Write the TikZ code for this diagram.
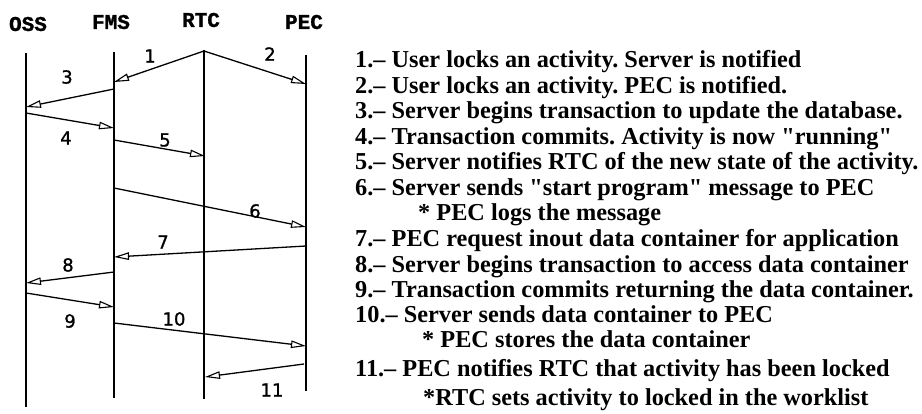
\documentclass[tikz,border=0pt]{standalone}
\usepackage{fontspec}
\setmainfont{Liberation Serif}[Ligatures=TeXOff]
\newfontfamily\headfont{Liberation Mono}[FakeBold=1.2]
\newfontfamily\numfont{DejaVu Sans}[FakeBold=1.2]
\usetikzlibrary{arrows.meta}
\frenchspacing
\begin{document}
\begin{tikzpicture}[x=1pt,y=-1pt,
  lifeline/.style={line width=1.5pt},
  msg/.style={line width=1.3pt,-{Triangle[open,length=15pt,width=7.5pt,line width=1.1pt]}},
  head/.style={font=\headfont\bfseries\fontsize{21}{21}\selectfont},
  num/.style={font=\numfont\fontsize{18}{18}\selectfont},
  note/.style={anchor=base west,inner sep=0pt,font=\bfseries\fontsize{24.3}{24.3}\selectfont}]
\useasboundingbox (0,0) rectangle (922,413);

% column headings
\node[head] (hOSS) at (28,24) {OSS};
\node[head] (hFMS) at (111,22) {FMS};
\node[head] (hRTC) at (201,20) {RTC};
\node[head] (hPEC) at (304,22) {PEC};

% lifelines
\coordinate (oT) at (26,53);  \coordinate (oB) at (26,407);
\coordinate (fT) at (114,52); \coordinate (fB) at (114,398);
\coordinate (rT) at (204,50); \coordinate (rB) at (204,399);
\coordinate (pT) at (306,55); \coordinate (pB) at (306,391);
\draw[lifeline] (oT) -- (oB);
\draw[lifeline] (fT) -- (fB);
\draw[lifeline] (rT) -- (rB);
\draw[lifeline] (pT) -- (pB);

% message end points
\coordinate (m1a) at (204,51);  \coordinate (m1b) at (114,82);
\coordinate (m2b) at (306,84);
\coordinate (m3a) at (114,89);  \coordinate (m3b) at (26,107);
\coordinate (m4a) at (26,113);  \coordinate (m4b) at (114,128);
\coordinate (m5a) at (114,140); \coordinate (m5b) at (205,156);
\coordinate (m6a) at (114,188); \coordinate (m6b) at (306,227);
\coordinate (m7a) at (306,246); \coordinate (m7b) at (114,257);
\coordinate (m8a) at (114,272); \coordinate (m8b) at (26,283);
\coordinate (m9a) at (26,293);  \coordinate (m9b) at (114,307);
\coordinate (m10a) at (114,323); \coordinate (m10b) at (306,346);
\coordinate (m11a) at (304,364); \coordinate (m11b) at (205,377);

% messages
\draw[msg] (m1a) -- (m1b);
\draw[msg] (m1a) -- (m2b);
\draw[msg] (m3a) -- (m3b);
\draw[msg] (m4a) -- (m4b);
\draw[msg] (m5a) -- (m5b);
\draw[msg] (m6a) -- (m6b);
\draw[msg] (m7a) -- (m7b);
\draw[msg] (m8a) -- (m8b);
\draw[msg] (m9a) -- (m9b);
\draw[msg] (m10a) -- (m10b);
\draw[msg] (m11a) -- (m11b);

% message numbers
\node[num] (n1) at (150,56) {1};
\node[num] (n2) at (270,54) {2};
\node[num] (n3) at (67,77) {3};
\node[num] (n4) at (66,138) {4};
\node[num] (n5) at (165,140) {5};
\node[num] (n6) at (255,211) {6};
\node[num] (n7) at (163,242) {7};
\node[num] (n8) at (68,265) {8};
\node[num] (n9) at (70,321) {9};
\node[num] (n10) at (174,319) {10};
\node[num] (n11) at (272,390) {11};

% legend
\node[note] (t1)  at (355,67)  {1.– User locks an activity. Server is notified};
\node[note] (t2)  at (355,93)  {2.– User locks an activity. PEC is notified.};
\node[note] (t3)  at (355,118) {3.– Server begins transaction to update the database.};
\node[note] (t4)  at (355,144) {4.– Transaction commits. Activity is now "running"};
\node[note] (t5)  at (355,169) {5.– Server notifies RTC of the new state of the activity.};
\node[note] (t6)  at (355,195) {6.– Server sends "start program" message to PEC};
\node[note] (t6a) at (418,220) {* PEC logs the message};
\node[note] (t7)  at (355,246) {7.– PEC request inout data container for application};
\node[note] (t8)  at (355,272) {8.– Server begins transaction to access data container};
\node[note] (t9)  at (355,297) {9.– Transaction commits returning the data container.};
\node[note] (t10) at (355,322) {10.– Server sends data container to PEC};
\node[note] (t10a) at (422,347) {* PEC stores the data container};
\node[note] (t11) at (355,376) {11.– PEC notifies RTC that activity has been locked};
\node[note] (t11a) at (423,405) {*RTC sets activity to locked in the worklist};
\end{tikzpicture}
\end{document}
